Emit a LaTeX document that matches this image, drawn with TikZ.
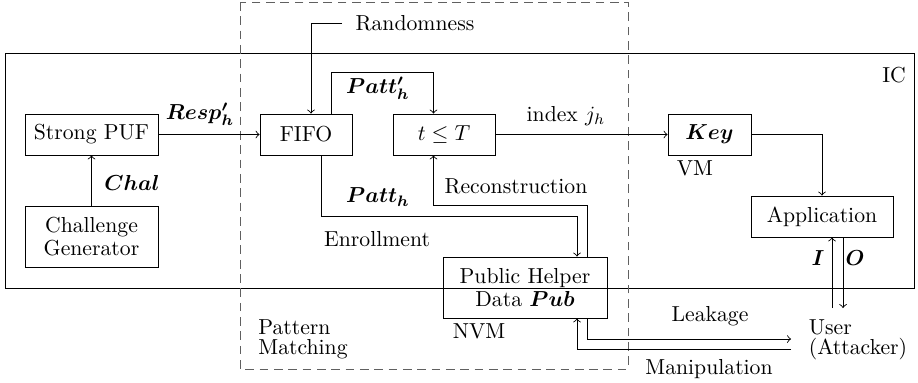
\documentclass[tikz,border=0pt]{standalone}
\usepackage{bm}
\usetikzlibrary{arrows}
\begin{document}
\begin{tikzpicture}[x=0.4608pt,y=-0.4608pt,
  blk/.style={draw,inner sep=0pt,align=center,minimum height=18.89pt},
  lbl/.style={inner sep=0pt},
  >=to]
\useasboundingbox (0,0) rectangle (918,382);

% outer regions
\draw (5,53) rectangle (914,288);
\draw[gray!75!black,dash pattern=on 4pt off 2.6pt] (240,2) rectangle (628,369);
\node[lbl] (ic) at (894,75) {IC};
\node[lbl,align=left,font=\fontsize{10}{9.2}\selectfont] (pm) at (303,339) {Pattern\\Matching};

% blocks
\node[blk,minimum width=61.29pt] (puf) at (91.5,134.5) {Strong PUF};
\node[blk,minimum width=61.29pt,minimum height=28.11pt,font=\fontsize{10}{10.6}\selectfont] (cg) at (91.5,236.5) {Challenge\\Generator};
\node[blk,minimum width=42.39pt] (fifo) at (306,134.5) {FIFO};
\node[blk,minimum width=47pt] (tt) at (444,134.5) {$t \le T$};
\node[blk,minimum width=38.25pt] (key) at (709.5,134.5) {$\bm{Key}$};
\node[blk,minimum width=65.43pt] (app) at (822,216.5) {Application};
\node[blk,minimum width=75.57pt,minimum height=28.11pt,font=\fontsize{10}{10.8}\selectfont] (pub) at (525,287.5) {Public Helper\\Data $\bm{Pub}$};
\node[lbl] (rand) at (415,23) {Randomness};
\node[lbl,align=left,font=\fontsize{10}{9.4}\selectfont] (user) at (858,340) {User\\(Attacker)};

\node[lbl] (vm) at (695,168) {VM};
\node[lbl] (nvm) at (479,331) {NVM};

% connectors
\draw[->] (cg) -- (puf);
\node[lbl] at (132,183) {$\bm{Chal}$};

\draw[->] (puf) -- (fifo);
\node[lbl] at (200,114) {$\bm{Resp'_h}$};

\coordinate (fr) at ([xshift=2.3pt]fifo.north);
\draw[->] ([xshift=-6pt]rand.west) -| (fr);

\coordinate (fo) at ([xshift=11.52pt]fifo.north);
\coordinate (ti) at ([xshift=-4.84pt]tt.north);
\draw[->] (fo) -- ++(0,-41) -| (ti);
\node[lbl] at (378,88) {$\bm{Patt'_h}$};

\draw[->] (tt) -- (key);
\node[lbl] at (566,116) {index $j_h$};

\draw[->] (key) -| (app);

\coordinate (fb) at ([xshift=6.91pt]fifo.south);
\coordinate (pin) at ([xshift=23.96pt]pub.north);
\draw[->] (fb) -- ++(0,61) -| (pin);
\node[lbl] at (378,197) {$\bm{Patt_h}$};

\coordinate (pout) at ([xshift=28.57pt]pub.north);
\coordinate (tb) at ([xshift=-4.84pt]tt.south);
\draw[->] (pout) -- ++(0,-51) -| (tb);
\node[lbl] at (516,186) {Reconstruction};
\node[lbl] at (377,239) {Enrollment};

\coordinate (pbo) at ([xshift=28.57pt]pub.south);
\coordinate (pbi) at ([xshift=23.96pt]pub.south);
\coordinate (uleak) at (791,339);
\coordinate (umanip) at (791,349);
\draw[->] (pbo) |- (uleak);
\draw[->] (umanip) -| (pbi);
\node[lbl] at (710,316) {Leakage};
\node[lbl] at (709,369) {Manipulation};

\coordinate (ui) at (832,308);
\coordinate (uo) at (843,308);
\draw[->] (ui) -- (ui |- app.south);
\draw[->] (uo |- app.south) -- (uo);
\node[lbl] at (818,258) {$\bm{I}$};
\node[lbl] at (855,258) {$\bm{O}$};
\end{tikzpicture}
\end{document}
